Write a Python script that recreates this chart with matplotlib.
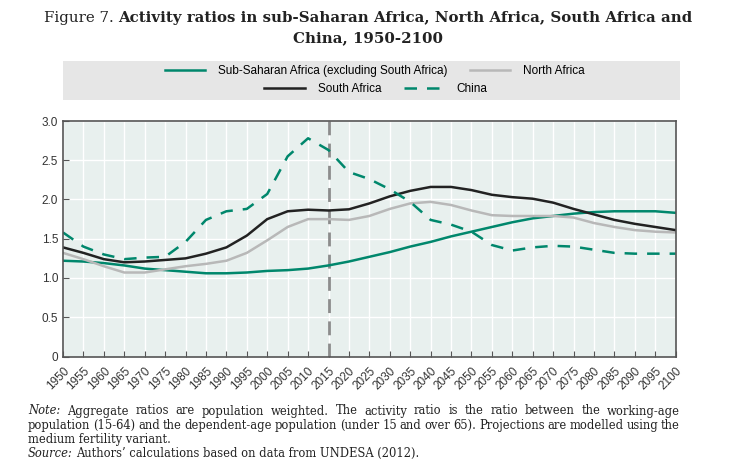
import matplotlib
matplotlib.use("Agg")
import matplotlib.pyplot as plt
from matplotlib.patches import Rectangle

years = list(range(1950, 2101, 5))
ssa = [1.22, 1.21, 1.19, 1.16, 1.12, 1.10, 1.08, 1.06, 1.06, 1.07, 1.09, 1.10, 1.12, 1.16,
       1.21, 1.27, 1.33, 1.40, 1.46, 1.53, 1.59, 1.65, 1.71, 1.76, 1.79, 1.82, 1.84, 1.85,
       1.85, 1.85, 1.83]
north = [1.32, 1.24, 1.15, 1.07, 1.07, 1.11, 1.15, 1.18, 1.22, 1.32, 1.48, 1.65, 1.75, 1.75,
         1.74, 1.79, 1.88, 1.95, 1.97, 1.93, 1.86, 1.80, 1.79, 1.79, 1.79, 1.77, 1.70, 1.65,
         1.61, 1.59, 1.58]
south = [1.39, 1.32, 1.24, 1.20, 1.21, 1.23, 1.25, 1.31, 1.39, 1.54, 1.75, 1.85, 1.87, 1.86,
         1.875, 1.95, 2.04, 2.11, 2.16, 2.16, 2.12, 2.06, 2.03, 2.01, 1.96, 1.88, 1.81, 1.74,
         1.69, 1.65, 1.61]
china = [1.58, 1.40, 1.30, 1.24, 1.26, 1.27, 1.46, 1.74, 1.85, 1.88, 2.07, 2.55, 2.78, 2.63,
         2.35, 2.26, 2.13, 1.97, 1.74, 1.68, 1.59, 1.42, 1.35, 1.39, 1.41, 1.40, 1.36, 1.32,
         1.31, 1.31, 1.31]
labels = ["Sub-Saharan Africa (excluding South Africa)", "North Africa", "South Africa", "China"]
yticks = [0, 0.5, 1.0, 1.5, 2.0, 2.5, 3.0]
ytick_labels = ["0", "0.5", "1.0", "1.5", "2.0", "2.5", "3.0"]
projection_year = 2015

W, H = 736, 473
GREEN = "#00876c"
GRAY = "#b8b8b8"
BLACK = "#222222"
sans = ["Liberation Sans", "DejaVu Sans"]
serif = ["DejaVu Serif"]

fig = plt.figure(figsize=(W/100, H/100), dpi=100)
ax = fig.add_axes([63/W, 1-356.5/H, (675.7-63)/W, (356.5-121)/H])
ax.set_facecolor("#e8f0ee")

l1, = ax.plot(years, ssa, color=GREEN, lw=1.8, label=labels[0])
l2, = ax.plot(years, north, color=GRAY, lw=1.8, label=labels[1])
l3, = ax.plot(years, south, color=BLACK, lw=1.8, label=labels[2])
l4, = ax.plot(years, china, color=GREEN, lw=1.8, ls=(0, (5, 4)), label=labels[3])
ax.axvline(projection_year, color="#8c8c8c", lw=2, ls=(0, (5, 3)), zorder=1.5)

ax.set_xlim(1950, 2100)
ax.set_ylim(0, 3)
ax.set_xticks(years)
ax.set_xticklabels([str(y) for y in years], rotation=45, ha="right", rotation_mode="anchor",
                   family=sans, fontsize=8.5, color="#333333")
ax.set_yticks(yticks)
ax.set_yticklabels(ytick_labels, family=sans, fontsize=8.5, color="#333333")
ax.tick_params(axis="both", direction="in", length=4, color="#555555", width=0.8)
ax.tick_params(axis="x", pad=6)
ax.grid(True, color="white", lw=1)
ax.set_axisbelow(True)
for s in ax.spines.values():
    s.set_color("#555555")
    s.set_linewidth(1.2)

# legend background
fig.patches.append(Rectangle((63/W, 1-100/H), (680-63)/W, 39/H, transform=fig.transFigure,
                             facecolor="#e6e6e6", edgecolor="none", zorder=0))
legkw = dict(loc="center", ncol=2, frameon=False, prop={"family": sans, "size": 8.5},
             handlelength=3.4, columnspacing=1.9, handletextpad=1.1, borderpad=0, borderaxespad=0)
leg1 = fig.legend(handles=[l1, l2], bbox_to_anchor=(375/W, 1-71/H), **legkw)
leg2 = fig.legend(handles=[l3, l4], bbox_to_anchor=(376/W, 1-89/H), **legkw)

fig.canvas.draw()
renderer = fig.canvas.get_renderer()

# title
tfs = 10.8
ta = fig.text(0, 1-18/H, "Figure 7. ", family=serif, fontsize=tfs, va="center", color="#222222")
tb = fig.text(0, 1-18/H, "Activity ratios in sub-Saharan Africa, North Africa, South Africa and",
              family=serif, fontsize=tfs, fontweight="bold", va="center", color="#222222")
wa = ta.get_window_extent(renderer).width
wb = tb.get_window_extent(renderer).width
x0 = (W - wa - wb) / 2
ta.set_x(x0 / W)
tb.set_x((x0 + wa) / W)
fig.text(0.5, 1-38/H, "China, 1950-2100", ha="center", va="center", family=serif,
         fontsize=tfs, fontweight="bold", color="#222222")

# notes (justified manually)
left_px, right_px = 28, 680
fs = 8.3
note_lines = [
    [("Note:", "italic")] + [(w, "normal") for w in
     "Aggregate ratios are population weighted. The activity ratio is the ratio between the working-age".split()],
    [(w, "normal") for w in
     "population (15-64) and the dependent-age population (under 15 and over 65). Projections are modelled using the".split()],
]
ys = [1-411/H, 1-425/H]
for words, yy in zip(note_lines, ys):
    texts = [fig.text(0, yy, w, family=serif, style=st, fontsize=fs, va="center", color="#222222")
             for w, st in words]
    widths = [t.get_window_extent(renderer).width for t in texts]
    gap = (right_px - left_px - sum(widths)) / (len(texts) - 1)
    x = left_px
    for t, w in zip(texts, widths):
        t.set_x(x / W)
        x += w + gap
fig.text(left_px/W, 1-439/H, "medium fertility variant.", family=serif, fontsize=fs,
         va="center", color="#222222")
t1 = fig.text(left_px/W, 1-453/H, "Source:", family=serif, style="italic", fontsize=fs,
              va="center", color="#222222")
w1 = t1.get_window_extent(renderer).width
fig.text((left_px + w1 + 3)/W, 1-453/H, "Authors\u2019 calculations based on data from UNDESA (2012).",
         family=serif, fontsize=fs, va="center", color="#222222")

fig.savefig("out.png", dpi=100)
